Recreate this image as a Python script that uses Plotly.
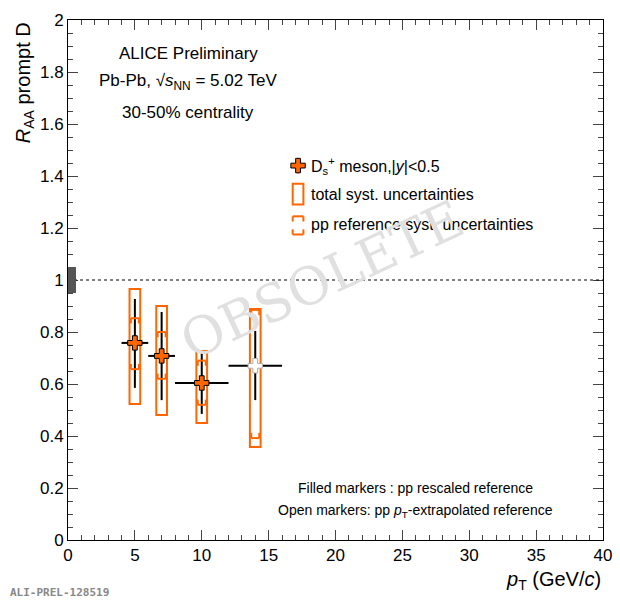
import plotly.graph_objects as go

pt = [5, 7, 10, 14]
pt_lo = [4, 6, 8, 12]
pt_hi = [6, 8, 12, 16]
raa = [0.758, 0.708, 0.604, 0.670]
stat_hi = [0.927, 0.877, 0.723, 0.804]
stat_lo = [0.585, 0.538, 0.485, 0.538]
syst_hi = [0.965, 0.900, 0.727, 0.888]
syst_lo = [0.523, 0.481, 0.450, 0.358]
pp_hi = [0.853, 0.800, 0.690, 0.885]
pp_lo = [0.657, 0.620, 0.520, 0.392]
filled = [True, True, True, False]

OR = "#ff6600"
fig = go.Figure()
shapes = []
for i in range(4):
    shapes.append(dict(type="rect", x0=pt[i]-0.4, x1=pt[i]+0.4, y0=syst_lo[i], y1=syst_hi[i],
                       line=dict(color=OR, width=2), layer="below"))
    for y, d in [(pp_hi[i], -0.02), (pp_lo[i], 0.02)]:
        shapes.append(dict(type="line", x0=pt[i]-0.3, x1=pt[i]+0.3, y0=y, y1=y, line=dict(color=OR, width=2)))
        for s in (-0.3, 0.3):
            shapes.append(dict(type="line", x0=pt[i]+s, x1=pt[i]+s, y0=y, y1=y+d, line=dict(color=OR, width=2)))
shapes.append(dict(type="line", x0=0, x1=40, y0=1, y1=1, line=dict(color="black", width=1, dash="dot")))
shapes.append(dict(type="rect", x0=0, x1=0.6, y0=0.95, y1=1.05, fillcolor="#555555", line=dict(width=0)))

for i in range(4):
    fig.add_trace(go.Scatter(x=[pt[i]], y=[raa[i]], mode="markers",
        error_x=dict(type="data", symmetric=False, array=[pt_hi[i]-pt[i]], arrayminus=[pt[i]-pt_lo[i]],
                     color="black", thickness=2, width=0),
        error_y=dict(type="data", symmetric=False, array=[stat_hi[i]-raa[i]], arrayminus=[raa[i]-stat_lo[i]],
                     color="black", thickness=2, width=0),
        marker=dict(symbol="cross", size=12, color=OR if filled[i] else "white",
                    line=dict(color="black" if filled[i] else "#aaaaaa", width=1)),
        showlegend=False))

# legend
fig.add_trace(go.Scatter(x=[17.2], y=[1.44], mode="markers",
    marker=dict(symbol="cross", size=12, color=OR, line=dict(color="black", width=1)),
    error_y=dict(type="constant", value=0.03, color=OR, thickness=2, width=0), showlegend=False))
shapes.append(dict(type="rect", x0=16.8, x1=17.6, y0=1.29, y1=1.37, line=dict(color=OR, width=2)))
for y, d in [(1.245, -0.02), (1.175, 0.02)]:
    shapes.append(dict(type="line", x0=16.8, x1=17.6, y0=y, y1=y, line=dict(color=OR, width=2)))
    for s in (16.8, 17.6):
        shapes.append(dict(type="line", x0=s, x1=s, y0=y, y1=y+d, line=dict(color=OR, width=2)))

F = "Liberation Sans"
ann = [
    dict(x=9.0, y=1.87, text="ALICE Preliminary", font=dict(size=17)),
    dict(x=9.0, y=1.76, text="Pb-Pb, √<i>s</i><sub>NN</sub> = 5.02 TeV", font=dict(size=17)),
    dict(x=9.0, y=1.645, text="30-50% centrality", font=dict(size=17)),
    dict(x=18.0, y=1.44, text="D<sub>s</sub><sup>+</sup> meson,|<i>y</i>|<0.5", xanchor="left", font=dict(size=16)),
    dict(x=18.0, y=1.33, text="total syst. uncertainties", xanchor="left", font=dict(size=16)),
    dict(x=18.0, y=1.215, text="pp reference syst. uncertainties", xanchor="left", font=dict(size=16)),
    dict(x=26.0, y=0.2, text="Filled markers : pp rescaled reference", font=dict(size=14)),
    dict(x=26.0, y=0.11, text="Open markers: pp <i>p</i><sub>T</sub>-extrapolated reference", font=dict(size=14)),
    dict(x=19.0, y=1.0, text="OBSOLETE", textangle=-25, font=dict(size=52, color="#e0e0e0", family="DejaVu Serif")),
]
for a in ann:
    a.update(xref="x", yref="y", showarrow=False)
    a["font"].setdefault("family", F)
    a["font"].setdefault("color", "black")
ann.append(dict(xref="paper", yref="paper", x=1, y=-0.05, xanchor="right", yanchor="top", showarrow=False,
                text="<i>p</i><sub>T</sub> (GeV/<i>c</i>)", font=dict(size=20, family=F, color="black")))
ann.append(dict(xref="paper", yref="paper", x=-0.108, y=1, xanchor="left", yanchor="top", showarrow=False, textangle=-90,
                text="<i>R</i><sub>AA</sub> prompt D", font=dict(size=20, family=F, color="black")))
ann.append(dict(xref="paper", yref="paper", x=-0.112, y=-0.085, xanchor="left", yanchor="top", showarrow=False,
                text="<b>ALI-PREL-128519</b>", font=dict(size=11, family="DejaVu Sans Mono", color="#888888")))

ax = dict(showgrid=False, zeroline=False, ticks="inside", mirror="ticks", showline=True, linecolor="black",
          linewidth=1, tickfont=dict(size=17, family=F, color="black"), ticklen=10,
          minor=dict(ticks="inside", ticklen=5))
fig.update_layout(width=612, height=592, margin=dict(l=60, r=17, t=12, b=60, autoexpand=False),
                  plot_bgcolor="white", paper_bgcolor="white", shapes=shapes, annotations=ann)
fig.update_xaxes(range=[0, 40], dtick=5, minor_dtick=1, **ax)
fig.update_yaxes(range=[0, 2], dtick=0.2, minor_dtick=0.05, **ax)
fig.write_html("out.html")
